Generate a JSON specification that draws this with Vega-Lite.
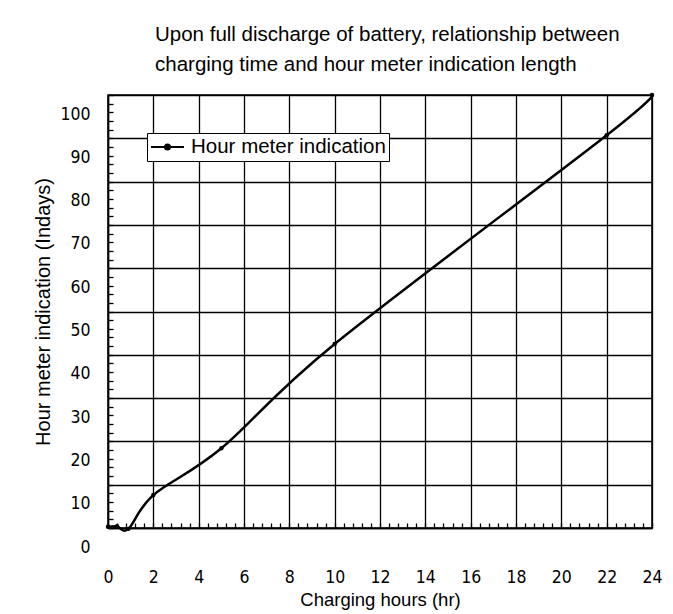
{
  "$schema": "https://vega.github.io/schema/vega-lite/v6.json",
  "width": 544,
  "height": 433,
  "autosize": "none",
  "padding": {"left": 108, "top": 95, "right": 21, "bottom": 86},
  "background": "white",
  "title": {
    "text": ["Upon full discharge of battery, relationship between", "charging time and hour meter indication length"],
    "anchor": "start",
    "frame": "group",
    "align": "left",
    "dx": 47,
    "offset": 14,
    "font": "Liberation Sans",
    "fontSize": 20.5,
    "fontWeight": "normal",
    "lineHeight": 30,
    "color": "black"
  },
  "data": {
    "values": [
      {"hours": 0, "days": 0.3, "series": "Hour meter indication"},
      {"hours": 0.4, "days": 0.4, "series": "Hour meter indication"},
      {"hours": 0.9, "days": -0.2, "series": "Hour meter indication"},
      {"hours": 2, "days": 7.6, "series": "Hour meter indication"},
      {"hours": 5, "days": 18.4, "series": "Hour meter indication"},
      {"hours": 10, "days": 42.5, "series": "Hour meter indication"},
      {"hours": 22, "days": 90.7, "series": "Hour meter indication"},
      {"hours": 24, "days": 100, "series": "Hour meter indication"}
    ]
  },
  "mark": {
    "type": "line",
    "interpolate": "cardinal",
    "strokeWidth": 2.5,
    "point": {"filled": true, "size": 20}
  },
  "encoding": {
    "x": {
      "field": "hours",
      "type": "quantitative",
      "scale": {"domain": [0, 24], "nice": false},
      "axis": {
        "title": "Charging hours (hr)",
        "values": [0,0.4,0.8,1.2,1.6,2,2.4,2.8,3.2,3.6,4,4.4,4.8,5.2,5.6,6,6.4,6.8,7.2,7.6,8,8.4,8.8,9.2,9.6,10,10.4,10.8,11.2,11.6,12,12.4,12.8,13.2,13.6,14,14.4,14.8,15.2,15.6,16,16.4,16.8,17.2,17.6,18,18.4,18.8,19.2,19.6,20,20.4,20.8,21.2,21.6,22,22.4,22.8,23.2,23.6,24],
        "grid": true,
        "gridColor": "black",
        "gridWidth": 1.3,
        "gridOpacity": {"condition": {"test": "datum.value % 2 === 0", "value": 1}, "value": 0},
        "tickColor": "black",
        "tickWidth": 1.3,
        "tickSize": -5,
        "labelExpr": "datum.value % 2 === 0 ? format(datum.value, 'd') : ''",
        "labelFlush": false,
        "labelFont": "DejaVu Sans Condensed",
        "labelFontSize": 17.5,
        "labelColor": "black",
        "labelPadding": 45,
        "domainColor": "black",
        "domainWidth": 1.5,
        "titleFont": "Liberation Sans",
        "titleFontSize": 18.5,
        "titleFontWeight": "normal",
        "titleColor": "black",
        "titlePadding": 5
      }
    },
    "y": {
      "field": "days",
      "type": "quantitative",
      "scale": {"domain": [0, 100], "nice": false},
      "axis": {
        "title": "Hour meter indication (Indays)",
        "values": [0,2,4,6,8,10,12,14,16,18,20,22,24,26,28,30,32,34,36,38,40,42,44,46,48,50,52,54,56,58,60,62,64,66,68,70,72,74,76,78,80,82,84,86,88,90,92,94,96,98,100],
        "grid": true,
        "gridColor": "black",
        "gridWidth": 1.3,
        "gridOpacity": {"condition": {"test": "datum.value % 10 === 0", "value": 1}, "value": 0},
        "tickColor": "black",
        "tickWidth": 1.3,
        "tickSize": -5,
        "labelExpr": "datum.value % 10 === 0 ? format(datum.value, 'd') : ''",
        "labelFlush": false,
        "labelOffset": 19,
        "labelFont": "DejaVu Sans Condensed",
        "labelFontSize": 17.5,
        "labelColor": "black",
        "labelPadding": 23,
        "domainColor": "black",
        "domainWidth": 1.5,
        "titleFont": "Liberation Sans",
        "titleFontSize": 20,
        "titleFontWeight": "normal",
        "titleColor": "black",
        "titlePadding": 6
      }
    },
    "color": {
      "field": "series",
      "type": "nominal",
      "scale": {"range": ["black"]},
      "legend": {
        "title": null,
        "orient": "none",
        "legendX": 39,
        "legendY": 38,
        "fillColor": "white",
        "strokeColor": "black",
        "padding": 3,
        "labelFont": "Liberation Sans",
        "labelFontSize": 20.5,
        "labelColor": "black",
        "labelOffset": 19,
        "labelLimit": 400,
        "symbolType": "M-1,0H2.3M0.4,0A0.25,0.25,0,1,0,0.9,0A0.25,0.25,0,1,0,0.4,0Z",
        "symbolSize": 400,
        "symbolStrokeWidth": 2,
        "symbolFillColor": "black",
        "symbolStrokeColor": "black"
      }
    }
  },
  "config": {
    "view": {"stroke": "black", "strokeWidth": 1.5}
  }
}
